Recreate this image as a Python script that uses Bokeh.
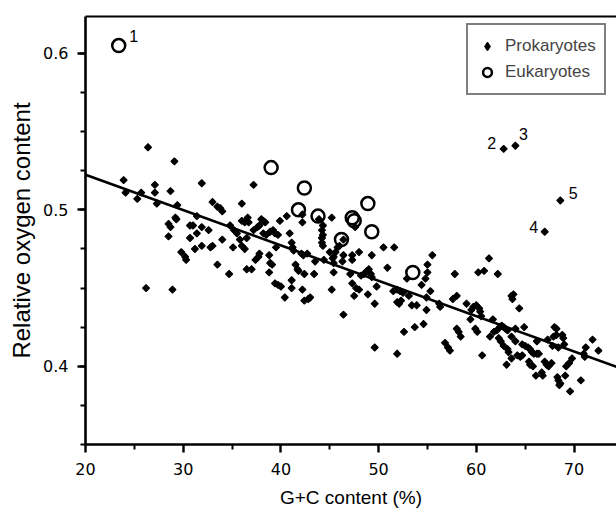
from bokeh.plotting import figure
from bokeh.models import LinearAxis, FixedTicker, Range1d, Legend, LegendItem, ColumnDataSource
from bokeh.embed import file_html
from bokeh.resources import INLINE
from bokeh.core.properties import value

# ---------------- data ----------------
prok_gc = [23.9, 24.1, 25.3, 25.7, 26.2, 26.4, 27.1, 27.1, 27.3, 28.5, 28.7, 28.5, 28.7, 28.9, 29.1,
           29.2, 29.3, 29.4, 29.8, 30.2, 30.3, 30.7, 31.0, 30.7, 31.4, 31.4, 31.2, 31.9, 31.9, 31.9,
           32.6, 32.8, 33.0, 33.0, 33.5, 33.8, 34.0, 33.5, 34.0, 34.7, 34.8, 35.2, 35.5, 35.1, 35.8,
           36.0, 36.3, 36.5, 36.0, 36.0, 36.3, 36.6, 36.7, 37.2, 36.5, 37.0, 37.2, 37.6, 37.8, 38.0,
           38.2, 38.4, 38.2, 38.5, 37.4, 37.7, 37.8, 38.8, 38.9, 39.1, 38.8, 38.9, 39.2, 39.4, 39.5,
           39.9, 39.7, 39.4, 39.7, 40.0, 40.4, 40.6, 40.9, 41.1, 41.2, 41.3, 41.1, 41.1, 41.5, 41.7,
           41.8, 42.1, 42.3, 42.7, 42.2, 42.2, 42.2, 42.4, 42.8, 43.0, 42.4, 43.4, 43.5, 43.9, 44.3,
           44.2, 44.3, 44.2, 44.2, 44.3, 44.4, 45.0, 45.2, 45.4, 45.4, 45.2, 45.3, 45.6, 45.4, 45.8,
           46.0, 46.4, 46.3, 46.4, 46.4, 47.3, 47.3, 47.6, 48.0, 47.1, 47.3, 47.7, 48.0, 47.5, 48.2,
           48.5, 48.8, 49.0, 49.2, 49.3, 49.3, 48.9, 49.6, 49.8, 49.6, 50.5, 50.9, 51.6, 51.5, 51.9,
           52.2, 52.5, 51.9, 52.1, 52.3, 51.9, 52.6, 52.9, 53.1, 53.4, 53.9, 53.7, 54.4, 54.6, 54.9,
           54.9, 54.8, 55.0, 55.0, 55.3, 55.5, 56.2, 56.3, 56.8, 57.1, 57.3, 57.6, 58.0, 57.8, 58.0,
           58.2, 58.4, 59.0, 59.5, 59.7, 60.0, 60.3, 60.4, 60.5, 59.4, 59.9, 60.1, 60.2, 60.8, 60.6,
           61.3, 61.4, 61.7, 61.8, 62.1, 62.4, 62.6, 62.8, 63.0, 63.2, 62.2, 62.3, 62.5, 62.8, 63.2,
           63.3, 63.1, 63.6, 63.6, 63.6, 63.7, 63.8, 64.0, 64.0, 64.2, 64.5, 64.7, 64.4, 64.7, 64.9,
           65.0, 65.3, 65.5, 65.7, 65.9, 66.2, 66.4, 65.4, 65.5, 65.8, 66.1, 66.2, 66.7, 66.8, 67.0,
           67.2, 67.4, 67.7, 67.3, 67.8, 68.0, 68.2, 67.9, 68.2, 68.4, 68.8, 68.9, 69.0, 68.3, 68.4,
           68.6, 68.5, 69.1, 69.2, 69.5, 69.8, 69.6, 70.7, 71.0, 71.1, 71.2, 71.9, 72.5,
           62.8, 64.0, 67.0, 68.6]
prok_o = [0.519, 0.511, 0.507, 0.511, 0.450, 0.540, 0.516, 0.511, 0.504, 0.491, 0.489, 0.483, 0.512, 0.449, 0.531,
          0.495, 0.494, 0.503, 0.473, 0.470, 0.468, 0.490, 0.490, 0.482, 0.496, 0.485, 0.475, 0.517, 0.489, 0.477,
          0.487, 0.476, 0.477, 0.505, 0.502, 0.501, 0.499, 0.465, 0.481, 0.459, 0.490, 0.487, 0.485, 0.476, 0.481,
          0.477, 0.475, 0.482, 0.504, 0.493, 0.492, 0.495, 0.492, 0.516, 0.462, 0.462, 0.487, 0.489, 0.490, 0.494,
          0.493, 0.492, 0.485, 0.484, 0.468, 0.470, 0.472, 0.471, 0.466, 0.465, 0.460, 0.486, 0.487, 0.485, 0.476,
          0.493, 0.484, 0.453, 0.452, 0.451, 0.444, 0.496, 0.485, 0.479, 0.476, 0.474, 0.455, 0.450, 0.465, 0.462,
          0.461, 0.472, 0.471, 0.472, 0.492, 0.497, 0.449, 0.442, 0.443, 0.444, 0.459, 0.459, 0.467, 0.494, 0.490,
          0.487, 0.484, 0.482, 0.479, 0.477, 0.468, 0.473, 0.495, 0.466, 0.460, 0.449, 0.469, 0.473, 0.470, 0.476,
          0.477, 0.481, 0.467, 0.471, 0.433, 0.471, 0.468, 0.489, 0.473, 0.459, 0.453, 0.450, 0.449, 0.445, 0.458,
          0.459, 0.461, 0.462, 0.459, 0.457, 0.471, 0.446, 0.440, 0.451, 0.412, 0.476, 0.463, 0.476, 0.448, 0.449,
          0.448, 0.447, 0.441, 0.440, 0.442, 0.408, 0.422, 0.456, 0.445, 0.439, 0.439, 0.425, 0.452, 0.427, 0.436,
          0.444, 0.456, 0.460, 0.465, 0.448, 0.471, 0.440, 0.438, 0.415, 0.412, 0.410, 0.443, 0.445, 0.459, 0.424,
          0.422, 0.419, 0.440, 0.436, 0.438, 0.439, 0.437, 0.435, 0.432, 0.430, 0.424, 0.422, 0.460, 0.461, 0.407,
          0.469, 0.419, 0.430, 0.422, 0.423, 0.425, 0.426, 0.425, 0.424, 0.423, 0.459, 0.418, 0.416, 0.413, 0.411,
          0.409, 0.401, 0.405, 0.419, 0.445, 0.443, 0.446, 0.416, 0.424, 0.407, 0.406, 0.407, 0.437, 0.414, 0.425,
          0.413, 0.412, 0.411, 0.409, 0.408, 0.408, 0.408, 0.403, 0.401, 0.400, 0.394, 0.416, 0.396, 0.394, 0.403,
          0.401, 0.400, 0.402, 0.417, 0.413, 0.425, 0.424, 0.419, 0.420, 0.412, 0.420, 0.418, 0.414, 0.393, 0.391,
          0.389, 0.388, 0.394, 0.400, 0.402, 0.405, 0.384, 0.391, 0.408, 0.406, 0.412, 0.417, 0.410,
          0.539, 0.541, 0.486, 0.506]

euk_gc = [23.4, 39.0, 42.4, 41.8, 43.8, 48.9, 47.5, 47.3, 49.3, 46.2, 53.5]
euk_o = [0.605, 0.527, 0.514, 0.500, 0.496, 0.504, 0.493, 0.495, 0.486, 0.481, 0.460]

num_labels = ["1", "2", "3", "4", "5"]
num_gc = [23.4, 62.8, 64.0, 67.0, 68.6]
num_o = [0.605, 0.539, 0.541, 0.486, 0.506]

fit_intercept = 0.5677
fit_slope = -0.002261

x_major = [20, 30, 40, 50, 60, 70]
x_minor = [25, 35, 45, 55, 65]
y_major = [0.4, 0.5, 0.6]
y_minor = [0.35, 0.375, 0.4, 0.425, 0.45, 0.475, 0.5, 0.525, 0.55, 0.575, 0.6]

x_lo, x_hi = 20, 74.35
y_lo, y_hi = 0.35, 0.6236

x_title = "G+C content (%)"
y_title = "Relative oxygen content"

# ---------------- styling ----------------
label_dx = [15, -12, 8, -11, 13]
label_dy = [-10, -6, -12, -5, -7]

p = figure(width=616, height=510, output_backend="svg", toolbar_location=None,
           x_range=Range1d(x_lo, x_hi), y_range=Range1d(y_lo, y_hi),
           min_border_left=85, min_border_right=0, min_border_top=16, min_border_bottom=65,
           background_fill_color="white", border_fill_color="white")
p.outline_line_color = None
p.xgrid.visible = False
p.ygrid.visible = False

# regression line
fx = [x_lo, x_hi + 2]
fy = [fit_intercept + fit_slope * v for v in fx]
p.line(fx, fy, line_color="black", line_width=2.6)

p.scatter(prok_gc, prok_o, marker="square", angle=0.7854, size=5,
          fill_color="black", line_color="black", line_width=1.1)
r_euk = p.scatter(euk_gc, euk_o, marker="circle", size=13, fill_color=None,
                  line_color="black", line_width=2.5)

# legend glyph for prokaryotes: a diamond renderer of zero size (invisible in the plot)
r_prok_leg = p.scatter(prok_gc[:1], prok_o[:1], marker="diamond", size=0,
                       fill_color="black", line_color="black", line_width=1)

src = ColumnDataSource(dict(x=num_gc, y=num_o, t=num_labels, dx=label_dx, dy=label_dy))
p.text(x="x", y="y", text="t", x_offset="dx", y_offset="dy", source=src,
       text_font=value("Liberation Sans"), text_font_size="16px",
       text_align="center", text_baseline="middle", text_color="black")

tick_font = "DejaVu Sans"
for ax in (p.xaxis[0], p.yaxis[0]):
    ax.axis_line_width = 2.6
    ax.axis_line_color = "black"
    ax.major_tick_line_width = 2.4
    ax.minor_tick_line_width = 2.0
    ax.major_tick_in = 0
    ax.major_tick_out = 8
    ax.minor_tick_in = 0
    ax.minor_tick_out = 5
    ax.major_label_text_font = tick_font
    ax.major_label_text_font_size = "16px"
    ax.major_label_text_color = "black"
    ax.axis_label_text_font = "Liberation Sans"
    ax.axis_label_text_font_style = "normal"
    ax.axis_label_text_color = "black"

p.xaxis[0].ticker = FixedTicker(ticks=x_major, minor_ticks=x_minor)
p.yaxis[0].ticker = FixedTicker(ticks=y_major, minor_ticks=y_minor)
p.xaxis[0].axis_label = x_title
p.yaxis[0].axis_label = y_title
p.xaxis[0].axis_label_text_font_size = "19px"
p.yaxis[0].axis_label_text_font_size = "24px"
p.xaxis[0].major_label_standoff = 10
p.xaxis[0].axis_label_standoff = 9
p.yaxis[0].major_label_standoff = 9
p.yaxis[0].axis_label_standoff = 5

top = LinearAxis(ticker=FixedTicker(ticks=[]), axis_line_width=2.2, axis_line_color="black",
                 major_tick_line_color=None, minor_tick_line_color=None,
                 major_label_text_font_size="0px")
p.add_layout(top, "above")

legend = Legend(items=[LegendItem(label="Prokaryotes", renderers=[r_prok_leg]),
                       LegendItem(label="Eukaryotes", renderers=[r_euk])],
                location=(381, 349), border_line_color="black", border_line_width=2,
                label_text_font="Liberation Sans", label_text_font_size="17px",
                glyph_width=22, glyph_height=26, padding=8, spacing=0,
                label_standoff=7, margin=0, background_fill_color="white",
                background_fill_alpha=1.0)
p.add_layout(legend)

open("out.html", "w").write(file_html(p, INLINE))
